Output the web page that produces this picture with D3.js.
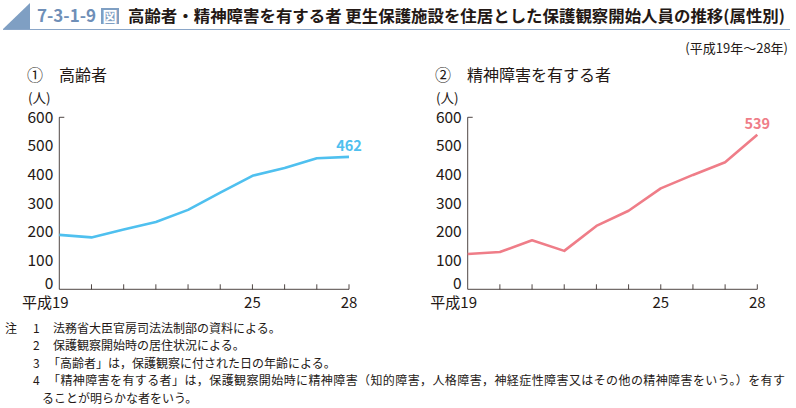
<!DOCTYPE html>
<html><head><meta charset="utf-8">
<script src="https://cdn.jsdelivr.net/npm/d3@7"></script>
<style>body{margin:0;background:#fff}svg{display:block}text{font-family:"Noto Sans CJK JP","Noto Sans",sans-serif;fill:#231815}</style>
</head><body><svg id="c" width="796" height="408"></svg>
<script>
const years = [19,20,21,22,23,24,25,26,27,28];
const yearLabels = {19:"平成19",25:"25",28:"28"};
const elderly = [190,181,209,235,277,337,396,423,457,462];
const mental = [123,130,171,134,221,274,352,399,443,539];
const yTicks = [0,100,200,300,400,500,600];
const notes = [
 ["注","1","法務省大臣官房司法法制部の資料による。"],
 ["","2","保護観察開始時の居住状況による。"],
 ["","3","「高齢者」は，保護観察に付された日の年齢による。"],
 ["","4","「精神障害を有する者」は，保護観察開始時に精神障害（知的障害，人格障害，神経症性障害又はその他の精神障害をいう。）を有す"],
 ["","","ることが明らかな者をいう。"]
];
const svg = d3.select("#c");
// title
svg.append("path").attr("d","M3,29 L30,3 L30,29 Z").attr("fill","#7f9fc3");
svg.append("line").attr("x1",3).attr("x2",790).attr("y1",29.5).attr("y2",29.5).attr("stroke","#8aa6c8").attr("stroke-width",1.2);
svg.append("text").attr("x",37).attr("y",22).attr("font-size",17).attr("font-weight","bold").style("fill","#6f8fb8").text("7-3-1-9");
svg.append("rect").attr("x",101).attr("y",8).attr("width",18).attr("height",16).attr("fill","#7f9fc3");
svg.append("text").attr("x",110).attr("y",21.5).attr("text-anchor","middle").attr("font-size",15).attr("font-weight","bold").style("fill","#fff").text("図");
svg.append("text").attr("x",128).attr("y",22).attr("font-size",16).attr("font-weight","bold").attr("textLength",657).attr("lengthAdjust","spacingAndGlyphs")
 .text("高齢者・精神障害を有する者 更生保護施設を住居とした保護観察開始人員の推移(属性別)");
svg.append("text").attr("x",788).attr("y",53).attr("text-anchor","end").attr("font-size",13).text("(平成19年～28年)");

function panel(x0,x1,data,color,title,titleX){
  const x = d3.scaleLinear().domain([19,28]).range([x0,x1]);
  const y = d3.scaleLinear().domain([0,600]).range([289.3,117.3]);
  const g = svg.append("g");
  g.append("text").attr("x",titleX).attr("y",81).attr("font-size",16).text(title);
  g.append("text").attr("x",titleX+1).attr("y",103).attr("font-size",13.5).text("(人)");
  // axes
  g.append("line").attr("x1",x0).attr("x2",x0).attr("y1",y(600)).attr("y2",y(0)).attr("stroke","#231815").attr("stroke-width",0.8);
  g.append("line").attr("x1",x0).attr("x2",x0+5).attr("y1",y(600)).attr("y2",y(600)).attr("stroke","#231815").attr("stroke-width",0.8);
  g.append("line").attr("x1",x0).attr("x2",x1).attr("y1",y(0)).attr("y2",y(0)).attr("stroke","#231815").attr("stroke-width",0.8);
  years.slice(1).forEach(v=>{
    g.append("line").attr("x1",x(v)).attr("x2",x(v)).attr("y1",y(0)).attr("y2",y(0)-5).attr("stroke","#231815").attr("stroke-width",0.8);
  });
  yTicks.forEach(t=>{
    g.append("text").attr("x",x0-6).attr("y",t===0?y(t)-0.8:y(t)+5.5).attr("text-anchor","end").attr("font-size",15.5).text(t);
  });
  years.forEach(v=>{ if(yearLabels[v]) g.append("text").attr("x",v===19?x(v)-14:x(v)).attr("y",307.5).attr("text-anchor","middle").attr("font-size",15).text(yearLabels[v]); });
  const line = d3.line().x((d,i)=>x(years[i])).y(d=>y(d));
  g.append("path").attr("d",line(data)).attr("fill","none").attr("stroke",color).attr("stroke-width",2.6).attr("stroke-linejoin","round");
  const last = data[data.length-1];
  g.append("text").attr("x",x(28)).attr("y",y(last)-5.5).attr("text-anchor","middle").attr("font-size",14.5).attr("font-weight","bold").style("fill",color).text(last);
}
panel(59.3,349,elderly,"#4fc0ef","①　高齢者",27);
panel(467.7,757.3,mental,"#ef7d88","②　精神障害を有する者",435);

notes.forEach((n,i)=>{
  const yy = 333 + i*17.4;
  svg.append("text").attr("x",5).attr("y",yy).attr("font-size",12).text(n[0]);
  svg.append("text").attr("x",33).attr("y",yy).attr("font-size",12).text(n[1]);
  const t = svg.append("text").attr("x",i===4?42:(i===2||i===3?48:53)).attr("y",yy).attr("font-size",12).text(n[2]);
  if(i===3) t.attr("textLength",737).attr("lengthAdjust","spacing");
});
</script></body></html>
